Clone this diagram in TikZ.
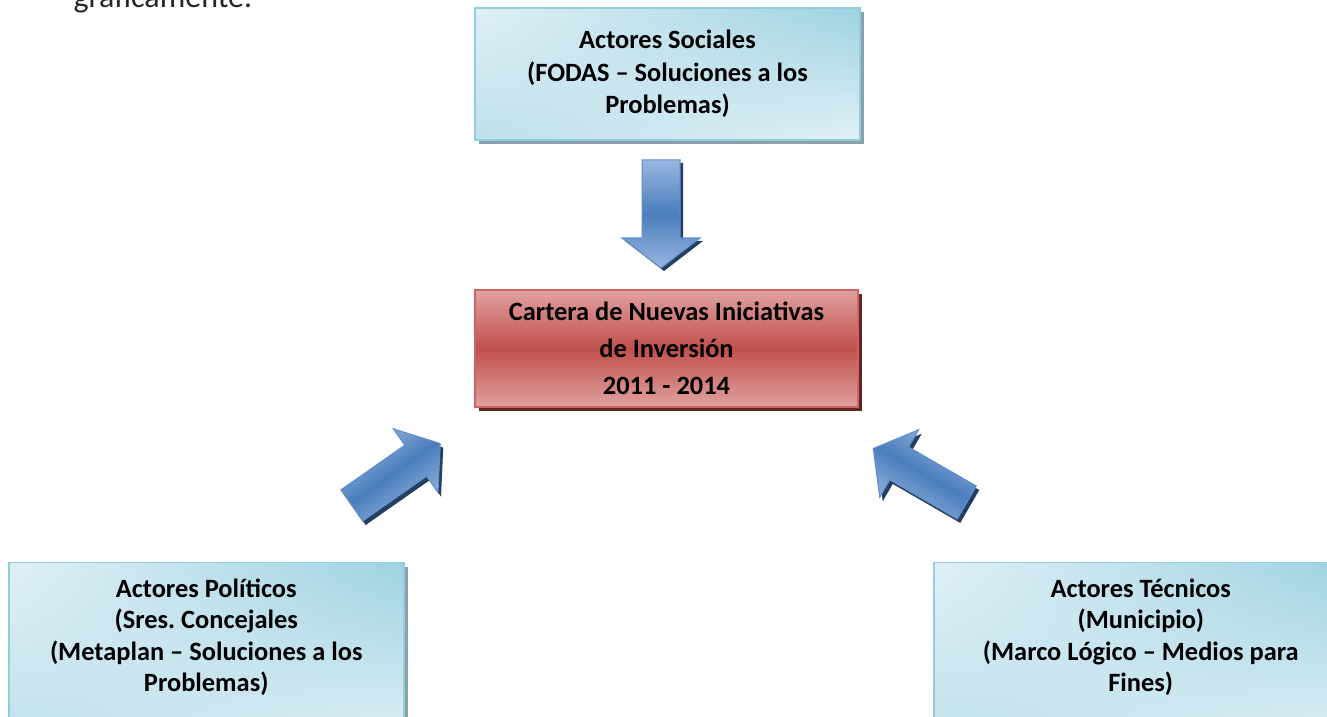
\documentclass[tikz,border=0pt]{standalone}
\usepackage{fontspec}
\setmainfont{Carlito}
\usepackage{tikz}
\usetikzlibrary{shadings,shadows}
\definecolor{boxline}{RGB}{147,205,221}
\definecolor{boxlight}{RGB}{224,240,246}
\definecolor{boxmid}{RGB}{190,224,234}
\definecolor{boxdark}{RGB}{158,210,225}
\definecolor{boxshadow}{RGB}{138,160,170}
\definecolor{redline}{RGB}{205,102,98}
\definecolor{redlight}{RGB}{224,162,160}
\definecolor{redmid}{RGB}{192,80,77}
\definecolor{redshadow}{RGB}{99,37,35}
\definecolor{arrline}{RGB}{96,142,200}
\definecolor{arrlight}{RGB}{152,182,224}
\definecolor{arrdark}{RGB}{74,126,187}
\definecolor{arrshadow}{RGB}{36,63,96}
\frenchspacing

\begin{document}
\begin{tikzpicture}[x=1pt,y=1pt,
    actor/.style={draw=boxline,line width=1.5pt,shade,shading=bilinear interpolation,
      upper left=boxlight,upper right=boxdark,lower left=boxmid,lower right=boxlight,
      drop shadow={shadow xshift=4pt,shadow yshift=-4pt,fill=boxshadow,opacity=1},
      align=center,inner sep=0pt,font=\bfseries\fontsize{26.4}{32.5}\selectfont},
    cartera/.style={draw=redline,line width=1.5pt,top color=redlight,bottom color=redlight,middle color=redmid,
      drop shadow={shadow xshift=4pt,shadow yshift=-4pt,fill=redshadow,opacity=1},
      align=center,inner sep=0pt},
    arrowbody/.style={draw=arrline,line width=1pt,top color=arrlight,bottom color=arrlight,middle color=arrdark},
    arrowshade/.style={fill=arrshadow},
    blockarrow/.pic={\path[#1] (-54,-19) -- (24,-19) -- (24,-39) -- (54,0) -- (24,39) -- (24,19) -- (-54,19) -- cycle;}
  ]
  \path[use as bounding box,clip] (0,0) rectangle (1327,717);

  \node[anchor=base west,font=\fontsize{32}{38}\selectfont,text=black!85] (frag) at (70,709) {gráficamente.};

  \node[actor,minimum width=385pt,minimum height=132pt] (sociales) at (667.5,643) {Actores Sociales\\(FODAS – Soluciones a los\\Problemas)};
  \node[cartera,minimum width=383pt,minimum height=117pt,font=\bfseries\fontsize{26.4}{37}\selectfont] (nuevas) at (666.5,368.5) {Cartera de Nuevas Iniciativas\\de Inversión\\2011 - 2014};
  \node[actor,anchor=north west,minimum width=395pt,text height=114pt,text depth=40pt,inner ysep=15pt,font=\bfseries\fontsize{26.4}{31.5}\selectfont] (politicos) at (8,155) {Actores Políticos\\(Sres. Concejales\\(Metaplan – Soluciones a los\\Problemas)};
  \node[actor,anchor=north west,minimum width=414pt,text height=114pt,text depth=40pt,inner ysep=15pt,font=\bfseries\fontsize{26.4}{31.5}\selectfont] (tecnicos) at (933,155) {Actores Técnicos\\(Municipio)\\(Marco Lógico – Medios para\\Fines)};

  % flechas
  \coordinate (down) at (661,503);
  \coordinate (left) at (396,242.5);
  \coordinate (right) at (920,241.5);
  \pic[rotate=-90] at ([shift={(3,-3)}]down) {blockarrow=arrowshade};
  \pic[rotate=-90] at (down) {blockarrow=arrowbody};
  \pic[rotate=35] at ([shift={(3,-4)}]left) {blockarrow=arrowshade};
  \pic[rotate=35] at (left) {blockarrow={arrowbody,shading angle=35}};
  \pic[rotate=150] at ([shift={(3,-4)}]right) {blockarrow=arrowshade};
  \pic[rotate=150] at (right) {blockarrow={arrowbody,shading angle=-30}};
\end{tikzpicture}
\end{document}
